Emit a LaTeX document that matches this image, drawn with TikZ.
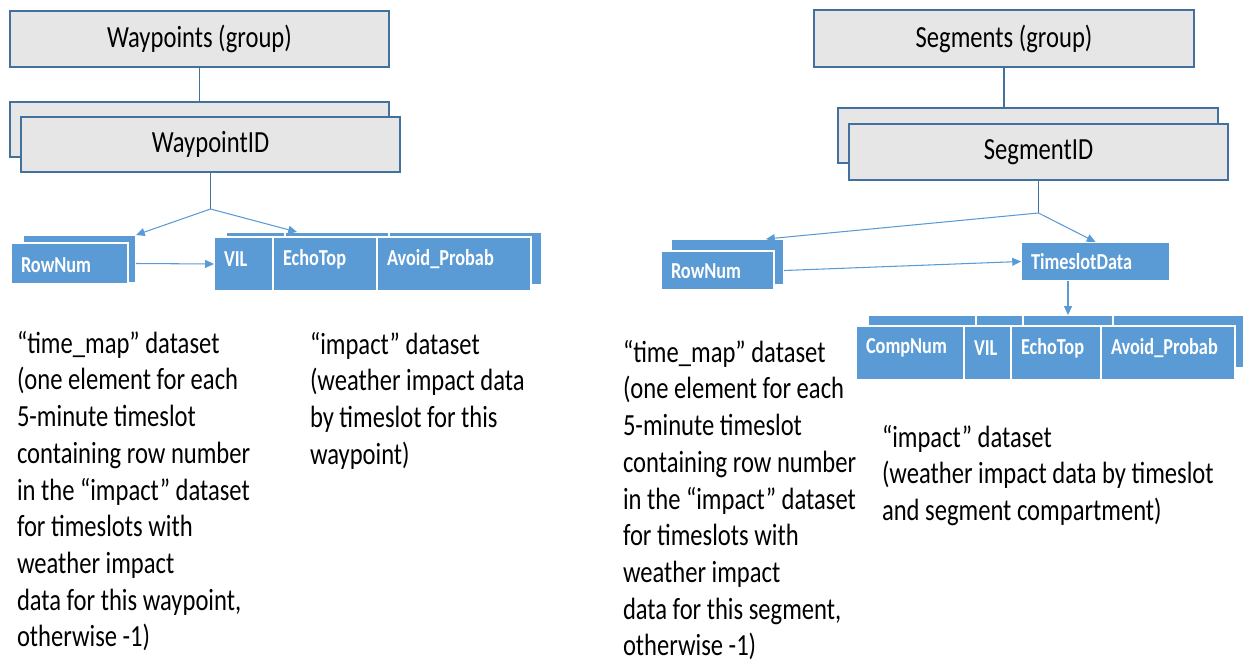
\documentclass[tikz,border=0pt]{standalone}
\usepackage{fontspec}
\setmainfont{Carlito}[FakeStretch=0.8]
\usetikzlibrary{arrows.meta}
\definecolor{boxgray}{HTML}{E7E6E6}
\definecolor{boxline}{HTML}{41719C}
\definecolor{cellblue}{HTML}{5B9BD5}

\begin{document}
\begin{tikzpicture}[x = 0.02cm, y = -0.02cm,
        every node/.style = {inner sep = 0, outer sep = 0},
        graybox/.style = {draw = boxline, fill = boxgray, line width = 0.8pt, font = \fontsize{17.5}{21}\selectfont},
        cell/.style = {draw = white, fill = cellblue, line width = 0.8pt},
        celltext/.style = {anchor = west, text = white, font = \fontsize{13}{15}\selectfont\bfseries},
        note/.style = {anchor = north west, align = left, font = \fontsize{17.5}{20.9}\selectfont},
        link/.style = {draw = boxline, line width = 0.6pt},
        arrow/.style = {draw = cellblue, line width = 0.6pt, -{Triangle[length = 5pt, width = 4.5pt]}}]
        \clip (0,0) rectangle (1243,662);

        % waypoints
        \node[graybox, minimum width = 7.58cm, minimum height = 1.12cm] (wpgroup) at (199.5,39) {Waypoints (group)};
        \node[graybox, minimum width = 7.58cm, minimum height = 1.10cm] (wpback) at (199.5,129.5) {};
        \node[graybox, minimum width = 7.58cm, minimum height = 1.10cm] (wpid) at (210.5,144.5) {WaypointID};
        \coordinate (wpfork) at (210.5,209);

        \node[cell, minimum width = 2.26cm, minimum height = 0.96cm] (rowback) at (79.5,259) {};
        \node[cell, minimum width = 2.34cm, minimum height = 0.82cm] (rowfront) at (69.5,263.5) {};
        \node[celltext] (rowfront-t) at (21,265) {RowNum};

        \foreach \n/\a/\b in {vilback/226/285, echoback/285/389, avoidback/389/542}
            \node[cell, minimum width = {(\b-\a)*0.02cm}, minimum height = 1.06cm] (\n) at ({(\a+\b)/2},258.5) {};
        \foreach \n/\a/\b/\txt in {vil/214/273/VIL, echo/273/377/EchoTop, avoid/377/531/Avoid\_Probab}
        {
            \node[cell, minimum width = {(\b-\a)*0.02cm}, minimum height = 1.08cm] (\n) at ({(\a+\b)/2},264) {};
            \node[celltext] (\n-t) at (\a+10,259) {\txt};
        }

        \draw[link] (wpgroup.south) -- (wpgroup.south |- wpback.north);
        \draw[link] (wpid.south) -- (wpfork);
        \draw[arrow] (wpfork) -- (rowback.north east);
        \draw[arrow] (wpfork) -- ([xshift = 0.24cm]echoback.north west);
        \draw[arrow] (rowback.east |- rowfront.center) -- (vil.west);

        \node[note] (wpmap) at (17,331) {“time\_map” dataset\\(one element for each\\5-minute timeslot\\containing row number\\in the “impact” dataset\\for timeslots with\\weather impact\\data for this waypoint,\\otherwise -1)};
        \node[note] (wpimpact) at (310,332) {“impact” dataset\\(weather impact data\\by timeslot for this\\waypoint)};

        % segments
        \node[graybox, minimum width = 7.60cm, minimum height = 1.14cm] (sggroup) at (1004,38.5) {Segments (group)};
        \node[graybox, minimum width = 7.60cm, minimum height = 1.10cm] (sgback) at (1028,135.5) {};
        \node[graybox, minimum width = 7.58cm, minimum height = 1.12cm] (sgid) at (1038.5,152) {SegmentID};
        \coordinate (sgfork) at (1038.5,213);

        \node[cell, minimum width = 2.26cm, minimum height = 0.92cm] (srowback) at (727.5,262) {};
        \node[cell, minimum width = 2.26cm, minimum height = 0.78cm] (srowfront) at (717.5,270.5) {};
        \node[celltext] (srowfront-t) at (671,271) {RowNum};
        \node[cell, minimum width = 2.98cm, minimum height = 0.78cm] (timeslot) at (1095.5,261.5) {};
        \node[celltext] (timeslot-t) at (1031,262) {TimeslotData};

        \foreach \n/\a/\b in {scompback/868/976, svilback/976/1023, sechoback/1023/1113, savoidback/1113/1250}
            \node[cell, minimum width = {(\b-\a)*0.02cm}, minimum height = 1.06cm] (\n) at ({(\a+\b)/2},341.5) {};
        \foreach \n/\a/\b/\txt in {scomp/856/964/CompNum, svil/964/1011/VIL, secho/1011/1101/EchoTop, savoid/1101/1235/Avoid\_Probab}
        {
            \node[cell, minimum width = {(\b-\a)*0.02cm}, minimum height = 1.08cm] (\n) at ({(\a+\b)/2},353) {};
            \node[celltext] (\n-t) at (\a+10,348) {\txt};
        }

        \draw[link] (sggroup.south) -- (sggroup.south |- sgback.north);
        \draw[link] (sgid.south) -- (sgfork);
        \draw[arrow] (sgfork) -- ([xshift = -0.36cm]srowback.north east);
        \draw[arrow] (sgfork) -- (timeslot.north);
        \draw[arrow] (srowback.east |- srowfront.center) -- (timeslot.west);
        \draw[arrow] (timeslot.south -| sechoback.north) -- (sechoback.north);

        \node[note] (sgmap) at (623,340) {“time\_map” dataset\\(one element for each\\5-minute timeslot\\containing row number\\in the “impact” dataset\\for timeslots with\\weather impact\\data for this segment,\\otherwise -1)};
        \node[note] (sgimpact) at (882,425) {“impact” dataset\\(weather impact data by timeslot\\and segment compartment)};
\end{tikzpicture}
\end{document}
